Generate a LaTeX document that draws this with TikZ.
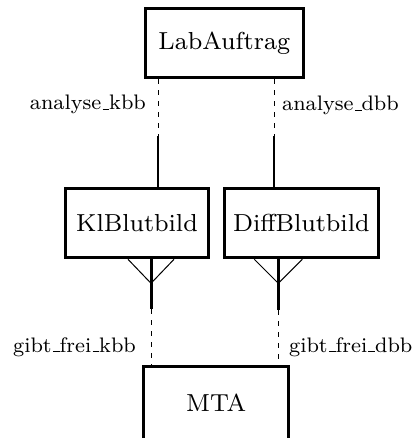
\documentclass[tikz,border=0pt]{standalone}
\usepackage{fontspec}
\setmainfont{lmroman8-regular}[Extension=.otf]
\usetikzlibrary{calc}
% underscore drawn as a baseline bar, the classic LaTeX way
\newcommand{\ubar}{\leavevmode\kern.06em\vbox{\hrule width .32em height .07em}}
\tikzset{
  frame/.style={draw=black, line width=3pt, inner sep=0pt,
    minimum height=69pt, font=\fontsize{24.6}{30}\selectfont},
  dashseg/.style={line width=0.8pt, dash pattern=on 5pt off 6pt},
  thinsolid/.style={line width=2pt},
  thicksolid/.style={line width=3pt},
  forkline/.style={line width=1pt},
  lbl/.style={inner sep=0pt, font=\fontsize{21}{26}\selectfont},
}
\begin{document}
\begin{tikzpicture}[x=1pt,y=-1pt]
  \useasboundingbox (0,0) rectangle (414,438);
  \clip (0,0) rectangle (414,438);

  % classes
  \node[frame, minimum width=158pt] (lab)  at (224.3,43.2)  {LabAuftrag};
  \node[frame, minimum width=143pt] (kl)   at (137,223.3)   {KlBlutbild};
  \node[frame, minimum width=154pt] (diff) at (301.3,223.3) {DiffBlutbild};
  \node[frame, draw=none, minimum width=142pt] (mta) at (216.2,402.3) {MTA};
  \draw[line width=3pt] ([yshift=-8pt]mta.south west) -- (mta.north west)
     -- (mta.north east) -- ([yshift=-8pt]mta.south east);

  % analyse associations: LabAuftrag -> KlBlutbild / DiffBlutbild
  \coordinate (ak) at (158.3,136);
  \coordinate (ad) at (274,136);
  \draw[dashseg] (ak |- lab.south) -- (ak);
  \draw[thinsolid] (ak) -- (ak |- kl.north);
  \draw[dashseg] (ad |- lab.south) -- (ad);
  \draw[thinsolid] (ad) -- (ad |- diff.north);

  % gibt_frei associations with aggregation forks
  \coordinate (gk) at (151,309);
  \coordinate (gd) at (278.3,310);
  \coordinate (fk) at (151,283.3);
  \coordinate (fd) at (278.3,283.3);
  \draw[forkline] ($(gk |- kl.south)+(-23,0)$) -- (fk) -- ($(gk |- kl.south)+(23,0)$);
  \draw[forkline] ($(gd |- diff.south)+(-24,0)$) -- (fd) -- ($(gd |- diff.south)+(24,0)$);
  \draw[thicksolid] (gk |- kl.south) -- (gk);
  \draw[thicksolid] (gd |- diff.south) -- (gd);
  \draw[dashseg] (gk) -- (gk |- mta.north);
  \draw[dashseg] (gd) -- (gd |- mta.north);

  % role labels
  \node[lbl, anchor=base east] (l1) at (146,110) {analyse\ubar kbb};
  \node[lbl, anchor=base west] (l2) at (282,111) {analyse\ubar dbb};
  \node[lbl, anchor=base east] (l3) at (136,352) {gibt\ubar frei\ubar kbb};
  \node[lbl, anchor=base west] (l4) at (289,352) {gibt\ubar frei\ubar dbb};
\end{tikzpicture}
\end{document}
